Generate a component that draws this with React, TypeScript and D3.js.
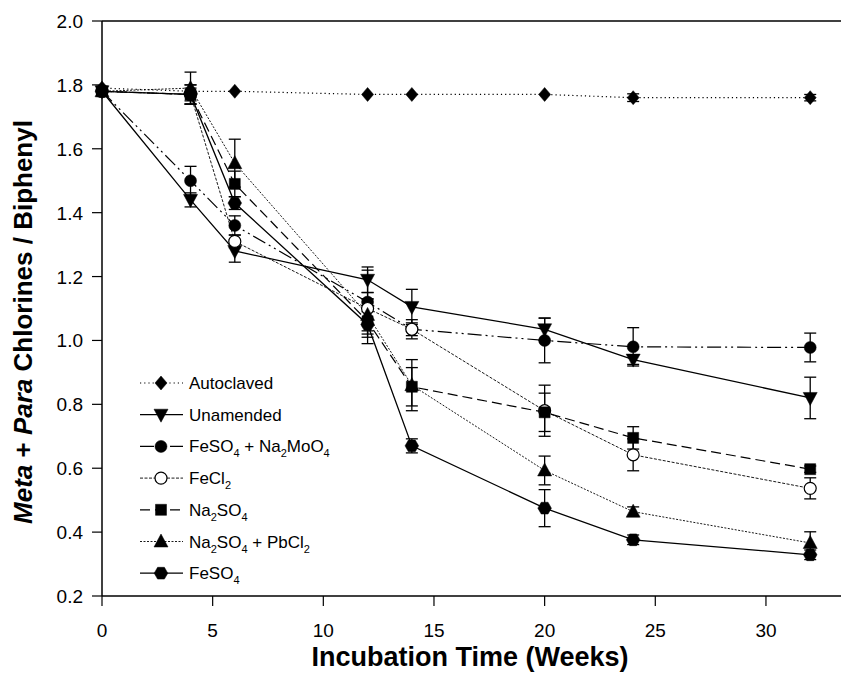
import React from "react";
import * as d3 from "d3";

const weeks = [0, 4, 6, 12, 14, 20, 24, 32];
const xTicks = [0, 5, 10, 15, 20, 25, 30];
const yTicks = [0.2, 0.4, 0.6, 0.8, 1.0, 1.2, 1.4, 1.6, 1.8, 2.0];

const autoclaved = [1.79, 1.78, 1.78, 1.77, 1.77, 1.77, 1.76, 1.76];
const autoclavedErr = [0, 0, 0, 0, 0, 0, 0.012, 0.01];
const unamended = [1.78, 1.44, 1.28, 1.19, 1.105, 1.035, 0.94, 0.82];
const unamendedErr = [0, 0.022, 0.035, 0.04, 0.055, 0.035, 0.015, 0.065];
const feso4Mo = [1.78, 1.5, 1.36, 1.12, 1.035, 1.0, 0.98, 0.978];
const feso4MoErr = [0, 0.045, 0.03, 0.1, 0.03, 0.07, 0.06, 0.045];
const fecl2 = [1.78, 1.77, 1.31, 1.1, 1.035, 0.78, 0.642, 0.537];
const fecl2Err = [0, 0.03, 0.02, 0.05, 0.02, 0.08, 0.05, 0.033];
const na2so4 = [1.78, 1.77, 1.49, 1.06, 0.855, 0.775, 0.695, 0.597];
const na2so4Err = [0, 0.03, 0.04, 0.07, 0.06, 0.06, 0.035, 0.01];
const na2so4Pb = [1.78, 1.79, 1.555, 1.08, 0.86, 0.593, 0.464, 0.366];
const na2so4PbErr = [0, 0.05, 0.075, 0.05, 0.08, 0.045, 0.015, 0.035];
const feso4 = [1.78, 1.77, 1.43, 1.05, 0.67, 0.475, 0.376, 0.329];
const feso4Err = [0, 0.02, 0.02, 0.04, 0.022, 0.058, 0.015, 0.015];

type Shape = "diamond" | "triDown" | "circle" | "openCircle" | "square" | "triUp" | "hexagon";

const series: { key: string; values: number[]; err: number[]; shape: Shape; dash: string; width: number }[] = [
  { key: "Autoclaved", values: autoclaved, err: autoclavedErr, shape: "diamond", dash: "1.2,3", width: 1.2 },
  { key: "Unamended", values: unamended, err: unamendedErr, shape: "triDown", dash: "none", width: 1.3 },
  { key: "FeSO4+Na2MoO4", values: feso4Mo, err: feso4MoErr, shape: "circle", dash: "14,4,2,4,2,4", width: 1.2 },
  { key: "FeCl2", values: fecl2, err: fecl2Err, shape: "openCircle", dash: "3,1.5", width: 0.9 },
  { key: "Na2SO4", values: na2so4, err: na2so4Err, shape: "square", dash: "10,5", width: 1.2 },
  { key: "Na2SO4+PbCl2", values: na2so4Pb, err: na2so4PbErr, shape: "triUp", dash: "2,1.5", width: 0.9 },
  { key: "FeSO4", values: feso4, err: feso4Err, shape: "hexagon", dash: "none", width: 1.3 },
];

const W = 841;
const H = 673;
const x = d3.scaleLinear().domain([0, 33.4]).range([102, 841.2]);
const y = d3.scaleLinear().domain([0.2, 2.0]).range([596, 21]);

function markerPath(shape: Shape): string {
  switch (shape) {
    case "diamond":
      return "M0,-7L6,0L0,7L-6,0Z";
    case "triDown":
      return "M-7,-5.5L7,-5.5L0,7.5Z";
    case "triUp":
      return "M-7,5.5L7,5.5L0,-7.5Z";
    case "square":
      return "M-5.5,-5.5H5.5V5.5H-5.5Z";
    case "hexagon": {
      const pts = d3.range(6).map((i) => {
        const a = (Math.PI / 3) * i;
        return [6.8 * Math.cos(a), 6.8 * Math.sin(a)];
      });
      return "M" + pts.map((p) => p.join(",")).join("L") + "Z";
    }
    default:
      return d3.symbol(d3.symbolCircle, 113)() as string;
  }
}

function Marker({ shape, cx, cy }: { shape: Shape; cx: number; cy: number }) {
  const open = shape === "openCircle";
  return (
    <path
      d={markerPath(shape)}
      transform={`translate(${cx},${cy})`}
      fill={open ? "#fff" : "#000"}
      stroke="#000"
      strokeWidth={open ? 1.2 : 0.5}
    />
  );
}

function Label({ name }: { name: string }) {
  const sub = (s: string) => (
    <tspan fontSize={11} dy={5}>
      {s}
    </tspan>
  );
  const up = (s: string) => <tspan dy={-5}>{s}</tspan>;
  switch (name) {
    case "FeSO4+Na2MoO4":
      return (
        <>
          FeSO{sub("4")}
          {up(" + Na")}
          {sub("2")}
          {up("MoO")}
          {sub("4")}
        </>
      );
    case "FeCl2":
      return (
        <>
          FeCl{sub("2")}
        </>
      );
    case "Na2SO4":
      return (
        <>
          Na{sub("2")}
          {up("SO")}
          {sub("4")}
        </>
      );
    case "Na2SO4+PbCl2":
      return (
        <>
          Na{sub("2")}
          {up("SO")}
          {sub("4")}
          {up(" + PbCl")}
          {sub("2")}
        </>
      );
    case "FeSO4":
      return (
        <>
          FeSO{sub("4")}
        </>
      );
    default:
      return <>{name}</>;
  }
}

export default function App() {
  const line = d3
    .line<number>()
    .x((_, i) => x(weeks[i]))
    .y((d) => y(d));

  const legendY0 = 383;
  const legendStep = 31.7;

  return (
    <svg
      width={W}
      height={H}
      style={{ position: "absolute", left: 0, top: 0, background: "#fff" }}
      fontFamily="Liberation Sans, Arial, sans-serif"
    >
      <rect width={W} height={H} fill="#fff" />
      {/* frame */}
      <line x1={102} x2={W} y1={21} y2={21} stroke="#000" strokeWidth={1.5} />
      <line x1={102} x2={W} y1={596} y2={596} stroke="#000" strokeWidth={1.5} />
      <line x1={102} x2={102} y1={21} y2={596} stroke="#000" strokeWidth={1.5} />

      {/* y ticks */}
      {yTicks.map((t) => (
        <g key={t}>
          <line x1={92} x2={102} y1={y(t)} y2={y(t)} stroke="#000" strokeWidth={1.2} />
          <text x={83} y={y(t) + 7} textAnchor="end" fontSize={19}>
            {d3.format(".1f")(t)}
          </text>
        </g>
      ))}
      {/* x ticks */}
      {xTicks.map((t) => (
        <g key={t}>
          <line x1={x(t)} x2={x(t)} y1={596} y2={606} stroke="#000" strokeWidth={1.2} />
          <text x={x(t)} y={637} textAnchor="middle" fontSize={19}>
            {t}
          </text>
        </g>
      ))}

      {/* axis titles */}
      <text x={470} y={666} textAnchor="middle" fontSize={27} fontWeight="bold">
        Incubation Time (Weeks)
      </text>
      <text
        transform={`translate(32,322) rotate(-90)`}
        textAnchor="middle"
        fontSize={26}
        fontWeight="bold"
      >
        <tspan fontStyle="italic">Meta</tspan> + <tspan fontStyle="italic">Para</tspan> Chlorines / Biphenyl
      </text>

      {/* lines */}
      {series.map((s) => (
        <path
          key={s.key + "l"}
          d={line(s.values) as string}
          fill="none"
          stroke="#000"
          strokeWidth={s.width}
          strokeDasharray={s.dash}
        />
      ))}
      {/* error bars */}
      {series.map((s) =>
        s.values.map((v, i) =>
          s.err[i] > 0 ? (
            <g key={s.key + "e" + i} stroke="#000" strokeWidth={1.3}>
              <line x1={x(weeks[i])} x2={x(weeks[i])} y1={y(v - s.err[i])} y2={y(v + s.err[i])} />
              <line x1={x(weeks[i]) - 6} x2={x(weeks[i]) + 6} y1={y(v + s.err[i])} y2={y(v + s.err[i])} />
              <line x1={x(weeks[i]) - 6} x2={x(weeks[i]) + 6} y1={y(v - s.err[i])} y2={y(v - s.err[i])} />
            </g>
          ) : null
        )
      )}
      {/* markers */}
      {series.map((s) =>
        s.values.map((v, i) => <Marker key={s.key + "m" + i} shape={s.shape} cx={x(weeks[i])} cy={y(v)} />)
      )}

      {/* legend */}
      {series.map((s, i) => {
        const ly = legendY0 + i * legendStep;
        return (
          <g key={s.key + "lg"}>
            <line x1={140} x2={183} y1={ly} y2={ly} stroke="#000" strokeWidth={s.width} strokeDasharray={s.dash} />
            <Marker shape={s.shape} cx={161} cy={ly} />
            <text x={189} y={ly + 6} fontSize={17}>
              <Label name={s.key} />
            </text>
          </g>
        );
      })}
    </svg>
  );
}
